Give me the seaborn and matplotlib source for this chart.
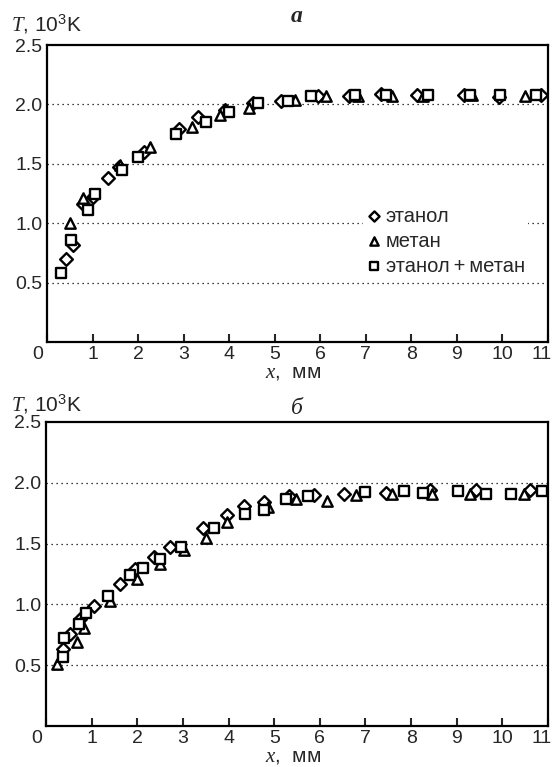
import numpy as np
import pandas as pd
import matplotlib
matplotlib.use("Agg")
import matplotlib.pyplot as plt
import matplotlib.transforms as mtransforms
import seaborn as sns

# --- panel "а": temperature profiles, x in mm, T in 10^3 K ---
a_eth_x = [0.42, 0.58, 0.80, 1.00, 1.35, 1.58, 2.14, 2.90, 3.32, 3.90, 4.53, 5.13,
           5.95, 6.63, 7.33, 8.13, 9.15, 9.92, 10.85]
a_eth_T = [0.70, 0.82, 1.16, 1.22, 1.38, 1.47, 1.60, 1.79, 1.89, 1.95, 2.01, 2.03,
           2.07, 2.07, 2.09, 2.08, 2.08, 2.06, 2.08]
a_met_x = [0.51, 0.78, 1.60, 2.26, 3.18, 3.80, 4.43, 5.44, 6.12, 6.83, 7.58, 8.26,
           9.34, 10.49]
a_met_T = [1.00, 1.215, 1.49, 1.64, 1.81, 1.91, 1.97, 2.04, 2.07, 2.07, 2.07, 2.07,
           2.08, 2.07]
a_mix_x = [0.30, 0.53, 0.90, 1.06, 1.64, 2.00, 2.83, 3.50, 4.00, 4.64, 5.30, 5.79,
           6.77, 7.45, 8.37, 9.28, 9.95, 10.73]
a_mix_T = [0.58, 0.86, 1.11, 1.25, 1.45, 1.56, 1.755, 1.85, 1.94, 2.01, 2.03, 2.07,
           2.08, 2.08, 2.08, 2.08, 2.08, 2.08]

# --- panel "б" ---
b_eth_x = [0.37, 0.53, 0.75, 1.06, 1.63, 1.94, 2.36, 2.71, 3.45, 3.96, 4.34, 4.78,
           5.32, 5.87, 6.52, 7.46, 8.41, 9.42, 10.60]
b_eth_T = [0.63, 0.76, 0.88, 0.99, 1.17, 1.29, 1.39, 1.475, 1.63, 1.735, 1.81, 1.845,
           1.89, 1.90, 1.905, 1.92, 1.94, 1.94, 1.94]
b_met_x = [0.24, 0.69, 0.84, 1.40, 2.00, 2.49, 3.03, 3.50, 3.96, 4.86, 5.47, 6.16,
           6.80, 7.58, 8.46, 9.29, 10.47]
b_met_T = [0.51, 0.69, 0.81, 1.03, 1.21, 1.33, 1.45, 1.55, 1.675, 1.80, 1.865, 1.85,
           1.90, 1.905, 1.905, 1.905, 1.905]
b_mix_x = [0.37, 0.40, 0.73, 0.88, 1.36, 1.83, 2.12, 2.49, 2.96, 3.69, 4.36, 4.78,
           5.25, 5.75, 7.00, 7.85, 8.25, 9.02, 9.64, 10.18, 10.86]
b_mix_T = [0.57, 0.72, 0.84, 0.93, 1.07, 1.24, 1.30, 1.37, 1.475, 1.625, 1.745, 1.78,
           1.865, 1.89, 1.925, 1.93, 1.92, 1.93, 1.905, 1.905, 1.93]

fuels = ["этанол", "метан", "этанол\u2009+\u2009метан"]
x_ticks = list(range(0, 12))
y_ticks = [0.5, 1.0, 1.5, 2.0, 2.5]
y_tick_labels = ["0.5", "1.0", "1.5", "2.0", "2.5"]
panel_titles = ["а", "б"]


def frame(ex, eT, mx, mT, sx, sT):
    parts = []
    for name, xs, ts in zip(fuels, (ex, mx, sx), (eT, mT, sT)):
        parts.append(pd.DataFrame({"x": xs, "T": ts, "fuel": name}))
    return pd.concat(parts, ignore_index=True)


df_a = frame(a_eth_x, a_eth_T, a_met_x, a_met_T, a_mix_x, a_mix_T)
df_b = frame(b_eth_x, b_eth_T, b_met_x, b_met_T, b_mix_x, b_mix_T)

sns.set_style("white")
plt.rcParams["font.family"] = ["Liberation Sans", "DejaVu Sans"]
plt.rcParams["mathtext.fontset"] = "custom"
plt.rcParams["mathtext.it"] = "Liberation Serif:italic"
plt.rcParams["mathtext.rm"] = "Liberation Sans"

W, H = 554, 767
fig = plt.figure(figsize=(W / 100, H / 100), dpi=100)
ax_a = fig.add_axes([47 / W, 1 - 342 / H, (548 - 47) / W, (342 - 45) / H])
ax_b = fig.add_axes([46 / W, 1 - 726 / H, (548 - 46) / W, (726 - 422) / H])

markers = {fuels[0]: "D", fuels[1]: "^", fuels[2]: "s"}
sizes_pt = {"D": 42, "^": 56, "s": 46}

for ax, df, with_legend in ((ax_a, df_a, True), (ax_b, df_b, False)):
    for name in fuels:
        sub = df[df["fuel"] == name]
        m = markers[name]
        sns.scatterplot(data=sub, x="x", y="T", marker=m, s=sizes_pt[m],
                        facecolor="white", edgecolor="black", linewidth=1.7,
                        label=name if with_legend else None, ax=ax, zorder=3,
                        legend=with_legend)
    ax.set_xlim(0, 11)
    ax.set_ylim(0, 2.5)
    ax.set_xticks(x_ticks)
    ax.set_xticklabels([str(t) for t in x_ticks], fontsize=14)
    ax.set_yticks(y_ticks)
    ax.set_yticklabels(y_tick_labels, fontsize=14)
    ax.tick_params(axis="x", direction="in", length=6, width=1.5, pad=3,
                   bottom=True, top=False)
    ax.tick_params(axis="y", length=0, pad=3.5)
    # the corner labels "0" and "11" sit slightly left of their ticks
    labels = ax.get_xticklabels()
    labels[0].set_transform(labels[0].get_transform() +
                            mtransforms.ScaledTranslation(-0.09, 0, fig.dpi_scale_trans))
    labels[-1].set_transform(labels[-1].get_transform() +
                             mtransforms.ScaledTranslation(-0.06, 0, fig.dpi_scale_trans))
    for sp in ax.spines.values():
        sp.set_visible(True)
        sp.set_linewidth(1.6)
        sp.set_color("black")
    for yv in y_ticks[:-1]:
        ax.axhline(yv, color="black", linestyle=(0, (1, 3)), linewidth=0.9,
                   zorder=1)
    ax.set_xlabel("")
    ax.set_ylabel("")

leg = ax_a.legend(loc="upper left", bbox_to_anchor=(0.63, 0.466), frameon=True,
                  fontsize=14.5, handletextpad=0.2, labelspacing=0.3,
                  borderpad=0.15, handlelength=0.8, markerscale=0.8,
                  borderaxespad=0)
leg.get_frame().set_facecolor("white")
leg.get_frame().set_edgecolor("none")
leg.get_frame().set_alpha(1)
leg.set_zorder(5)

# axis captions and panel letters
for ycap, yx, ytitle, title in ((24, 373, 17, panel_titles[0]),
                                (404, 757, 408, panel_titles[1])):
    fig.text(11 / W, 1 - ycap / H, r"$T$, 10$^3$K", fontsize=15, va="center",
             ha="left")
    fig.text(293 / W, 1 - yx / H, r"$x$,  мм", fontsize=15, va="center",
             ha="center")
    fig.text(297 / W, 1 - ytitle / H, title, fontsize=17, va="center",
             ha="center", family="Liberation Serif", style="italic",
             weight="bold" if title == "а" else "normal")

fig.savefig("out.png", dpi=100)
